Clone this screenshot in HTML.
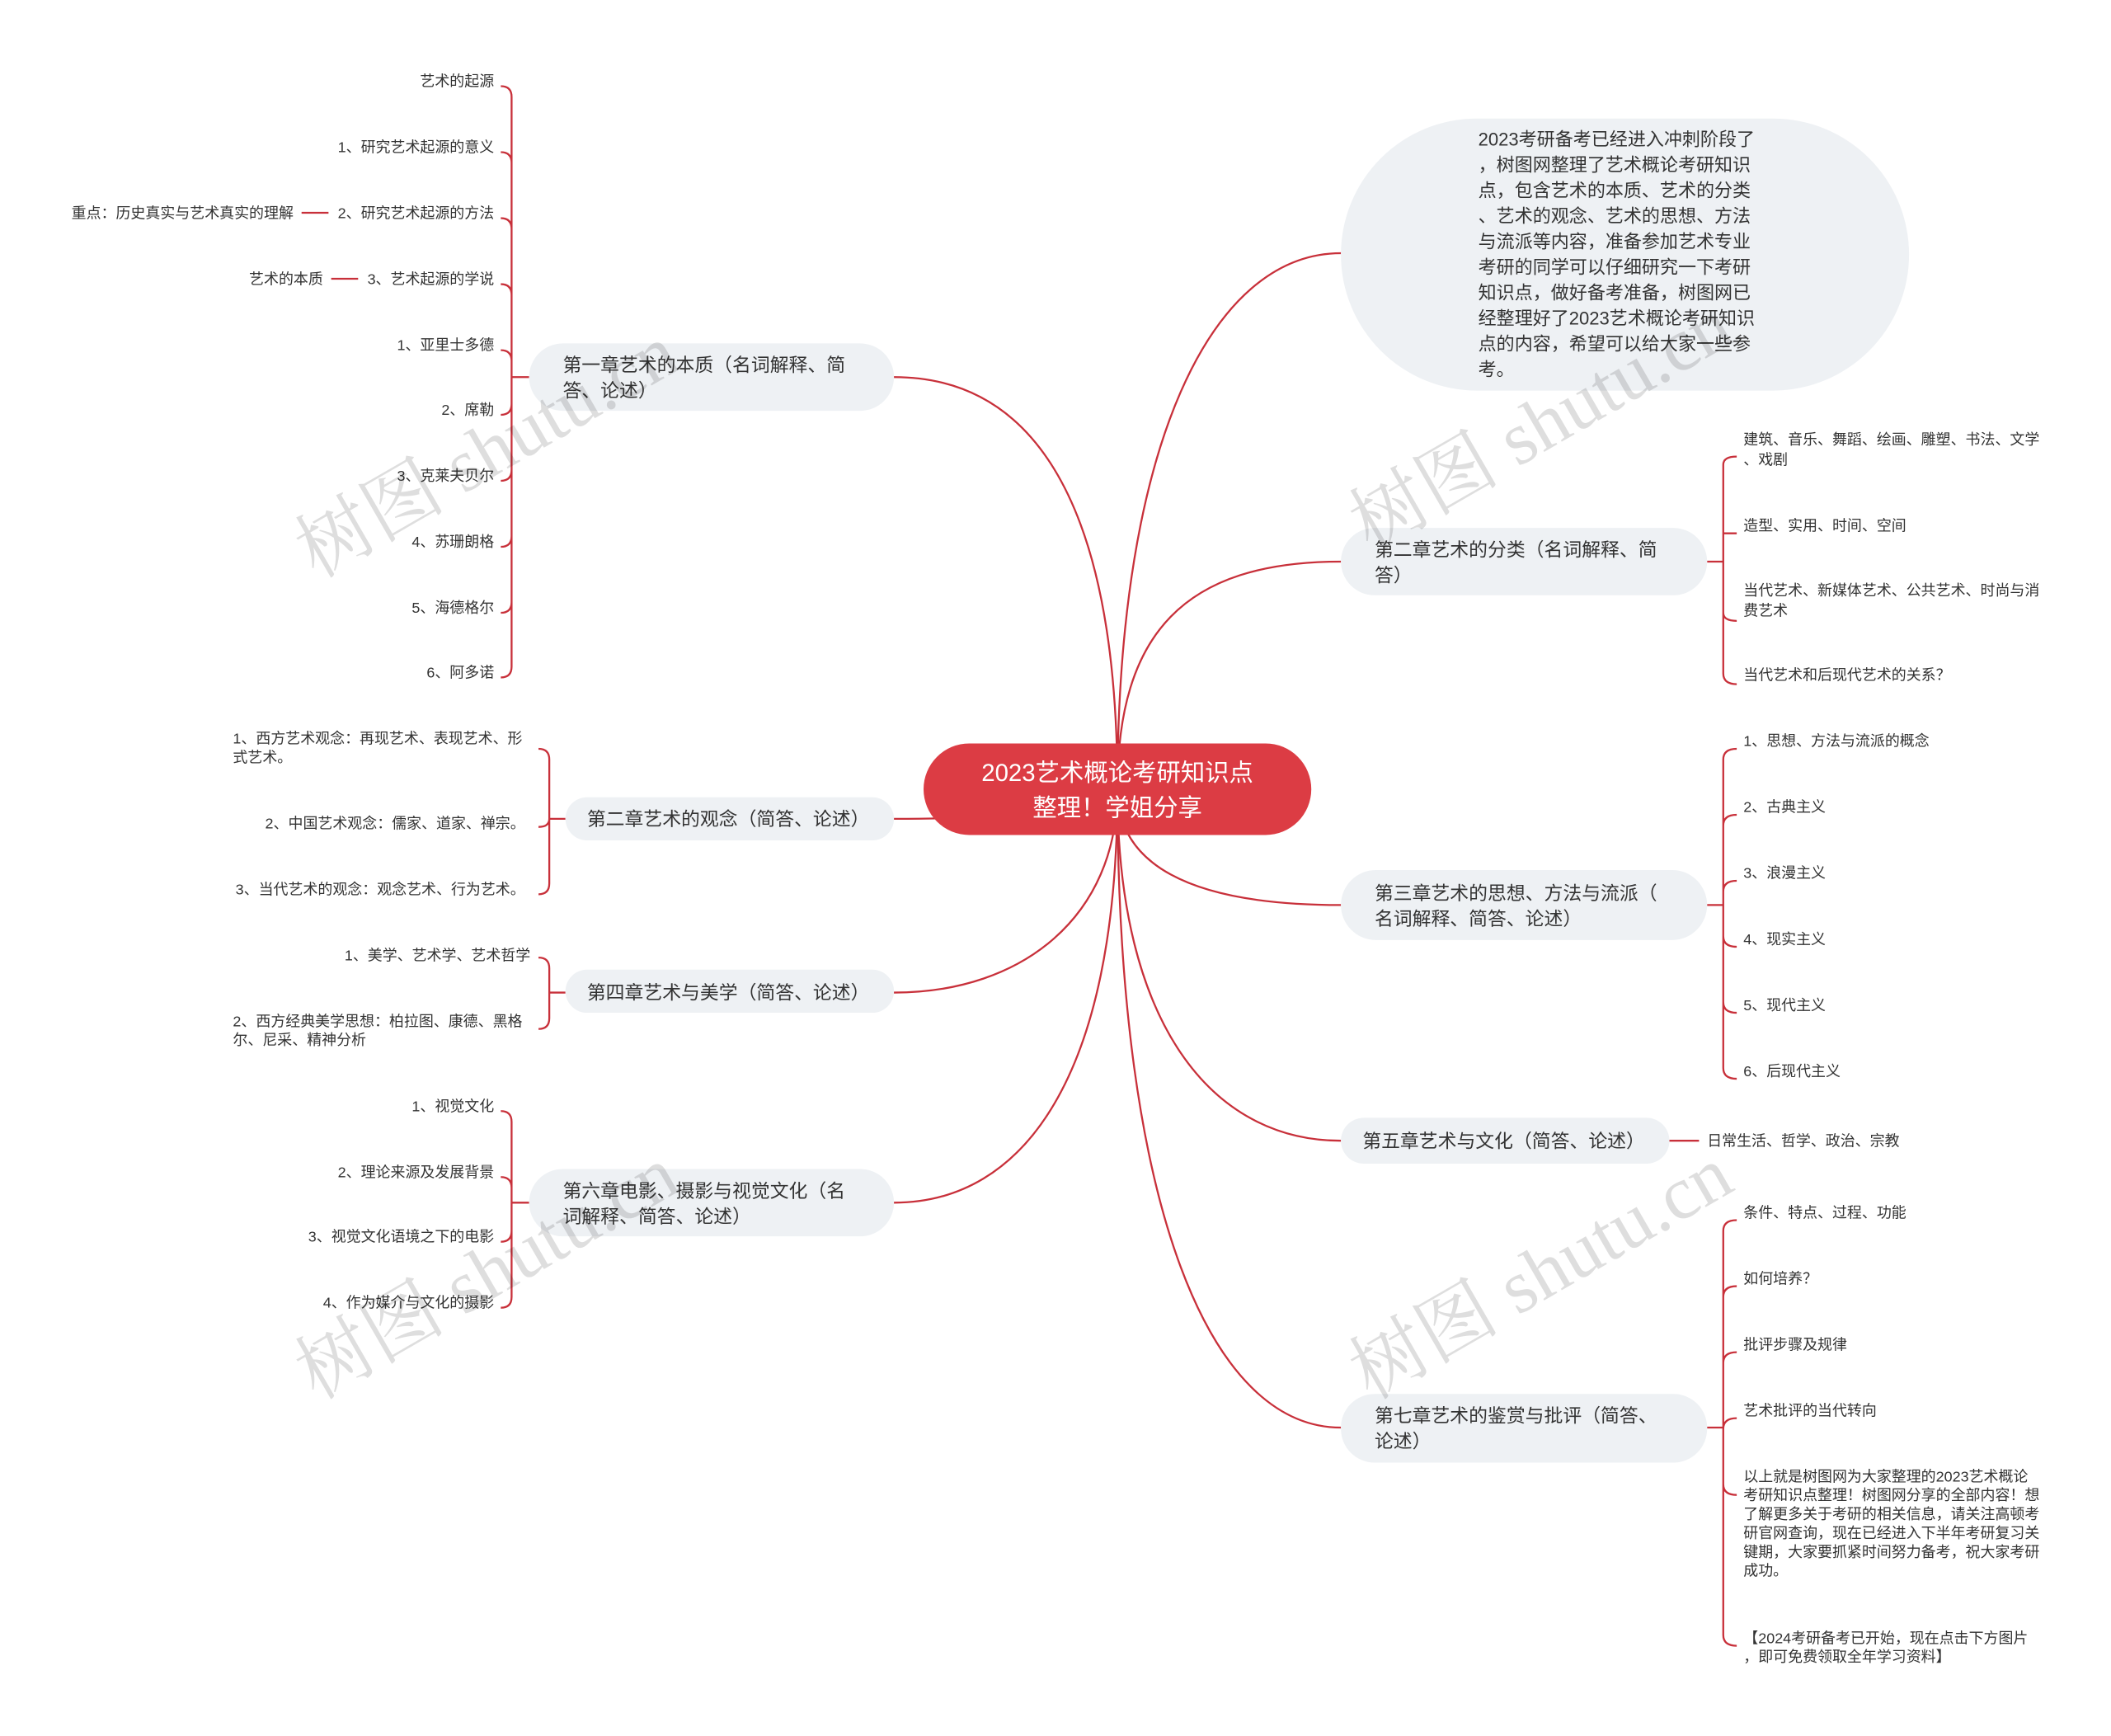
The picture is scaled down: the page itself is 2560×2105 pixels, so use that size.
<!DOCTYPE html>
<html><head><meta charset="utf-8"><style>
html,body{margin:0;padding:0;background:#fff;width:2560px;height:2105px;overflow:hidden}
svg{display:block}
text{font-family:"Liberation Sans","Noto Sans CJK SC",sans-serif;fill:#333}
.l{font-size:11px}
.b{font-size:14px}
.w{font-size:56px;fill:rgba(0,0,0,0.13);font-family:"Liberation Serif","Noto Serif CJK SC",serif}
path{fill:none;stroke:#c8303a;stroke-width:1.4}
</style></head><body>
<svg width="2560" height="2105" viewBox="0 0 1568 1289" preserveAspectRatio="none" xmlns="http://www.w3.org/2000/svg">
<path d="M830,586 C830,330 900,188 996,188"/>
<path d="M830,586 C830,470 880,417 996,417"/>
<path d="M830,586 C830,640 880,672 996,672"/>
<path d="M830,586 C830,760 900,847 996,847"/>
<path d="M830,586 C830,900 900,1060 996,1060"/>
<path d="M830,586 C830,360 760,280 664,280"/>
<path d="M830,586 C830,600 760,608 664,608"/>
<path d="M830,586 C830,680 760,737 664,737"/>
<path d="M830,586 C830,800 760,893 664,893"/>

<path d="M1268,417 H1280 M1280,417 V345 Q1280,339 1290,339 M1280,417 V396 Q1280,396 1290,396 M1280,417 V455 Q1280,461 1290,461 M1280,417 V500 Q1280,508 1290,508"/>
<path d="M1268,672 H1280 M1280,672 V564 Q1280,556 1290,556 M1280,672 V613 Q1280,605 1290,605 M1280,672 V662 Q1280,654 1290,654 M1280,672 V695 Q1280,703 1290,703 M1280,672 V744 Q1280,752 1290,752 M1280,672 V793 Q1280,801 1290,801"/>
<path d="M1240,847 H1262"/>
<path d="M1268,1060 H1280 M1280,1060 V914 Q1280,906 1290,906 M1280,1060 V963 Q1280,955 1290,955 M1280,1060 V1012 Q1280,1004 1290,1004 M1280,1060 V1061 Q1280,1053 1290,1053 M1280,1060 V1102 Q1280,1110 1290,1110 M1280,1060 V1214 Q1280,1222 1290,1222"/>

<path d="M393,280 H380 M380,280 V72 Q380,64 372,64 M380,280 V121 Q380,113 372,113 M380,280 V170 Q380,162 372,162 M380,280 V219 Q380,211 372,211 M380,280 V268 Q380,260 372,260 M380,280 V300 Q380,308 372,308 M380,280 V349 Q380,357 372,357 M380,280 V398 Q380,406 372,406 M380,280 V447 Q380,455 372,455 M380,280 V495 Q380,503 372,503"/>
<path d="M224,158 H244 M246,207 H266"/>
<path d="M420,608 H408 M408,608 V564 Q408,556 400,556 M408,608 Q408,614 400,614 M408,608 V656 Q408,664 400,664"/>
<path d="M420,737 H408 M408,737 V719 Q408,711 400,711 M408,737 V756 Q408,764 400,764"/>
<path d="M393,893 H380 M380,893 V833 Q380,825 372,825 M380,893 V882 Q380,874 372,874 M380,893 V914 Q380,922 372,922 M380,893 V963 Q380,971 372,971"/>

<rect x="686" y="552" width="288" height="68" rx="34" fill="#dc3c44"/>
<text x="830" y="580" text-anchor="middle" style="font-size:18px;fill:#fff">2023艺术概论考研知识点</text>
<text x="830" y="606" text-anchor="middle" style="font-size:18px;fill:#fff">整理！学姐分享</text>

<rect x="996" y="88" width="422" height="202" rx="101" fill="#eef1f4"/>
<g style="font-size:13.5px">
<text x="1098" y="108">2023考研备考已经进入冲刺阶段了</text>
<text x="1098" y="127">，树图网整理了艺术概论考研知识</text>
<text x="1098" y="146">点，包含艺术的本质、艺术的分类</text>
<text x="1098" y="165">、艺术的观念、艺术的思想、方法</text>
<text x="1098" y="184">与流派等内容，准备参加艺术专业</text>
<text x="1098" y="203">考研的同学可以仔细研究一下考研</text>
<text x="1098" y="222">知识点，做好备考准备，树图网已</text>
<text x="1098" y="241">经整理好了2023艺术概论考研知识</text>
<text x="1098" y="260">点的内容，希望可以给大家一些参</text>
<text x="1098" y="279">考。</text>
</g>

<rect x="996" y="392" width="272" height="50" rx="25" fill="#eef1f4"/>
<text class="b" x="1021" y="413">第二章艺术的分类（名词解释、简</text>
<text class="b" x="1021" y="432">答）</text>
<rect x="996" y="646" width="272" height="52" rx="26" fill="#eef1f4"/>
<text class="b" x="1021" y="668">第三章艺术的思想、方法与流派（</text>
<text class="b" x="1021" y="687">名词解释、简答、论述）</text>
<rect x="996" y="830" width="244" height="34" rx="17" fill="#eef1f4"/>
<text class="b" x="1012" y="852">第五章艺术与文化（简答、论述）</text>
<rect x="996" y="1035" width="272" height="51" rx="25" fill="#eef1f4"/>
<text class="b" x="1021" y="1056">第七章艺术的鉴赏与批评（简答、</text>
<text class="b" x="1021" y="1075">论述）</text>

<g class="l">
<text class="l" x="1295" y="330">建筑、音乐、舞蹈、绘画、雕塑、书法、文学</text>
<text class="l" x="1295" y="345">、戏剧</text>
<text class="l" x="1295" y="394">造型、实用、时间、空间</text>
<text class="l" x="1295" y="442">当代艺术、新媒体艺术、公共艺术、时尚与消</text>
<text class="l" x="1295" y="457">费艺术</text>
<text class="l" x="1295" y="505">当代艺术和后现代艺术的关系？</text>
<text class="l" x="1295" y="554">1、思想、方法与流派的概念</text>
<text class="l" x="1295" y="603">2、古典主义</text>
<text class="l" x="1295" y="652">3、浪漫主义</text>
<text class="l" x="1295" y="701">4、现实主义</text>
<text class="l" x="1295" y="750">5、现代主义</text>
<text class="l" x="1295" y="799">6、后现代主义</text>
<text class="l" x="1268" y="851">日常生活、哲学、政治、宗教</text>
<text class="l" x="1295" y="904">条件、特点、过程、功能</text>
<text class="l" x="1295" y="953">如何培养？</text>
<text class="l" x="1295" y="1002">批评步骤及规律</text>
<text class="l" x="1295" y="1051">艺术批评的当代转向</text>
<text class="l" x="1295" y="1100">以上就是树图网为大家整理的2023艺术概论</text>
<text class="l" x="1295" y="1114">考研知识点整理！树图网分享的全部内容！想</text>
<text class="l" x="1295" y="1128">了解更多关于考研的相关信息，请关注高顿考</text>
<text class="l" x="1295" y="1142">研官网查询，现在已经进入下半年考研复习关</text>
<text class="l" x="1295" y="1156">键期，大家要抓紧时间努力备考，祝大家考研</text>
<text class="l" x="1295" y="1170">成功。</text>
<text class="l" x="1295" y="1220">【2024考研备考已开始，现在点击下方图片</text>
<text class="l" x="1295" y="1234">，即可免费领取全年学习资料】</text>
</g>

<rect x="393" y="255" width="271" height="50" rx="25" fill="#eef1f4"/>
<text class="b" x="418" y="276">第一章艺术的本质（名词解释、简</text>
<text class="b" x="418" y="295">答、论述）</text>
<rect x="420" y="592" width="244" height="32" rx="16" fill="#eef1f4"/>
<text class="b" x="436" y="613">第二章艺术的观念（简答、论述）</text>
<rect x="420" y="720" width="244" height="32" rx="16" fill="#eef1f4"/>
<text class="b" x="436" y="742">第四章艺术与美学（简答、论述）</text>
<rect x="393" y="868" width="271" height="50" rx="25" fill="#eef1f4"/>
<text class="b" x="418" y="889">第六章电影、摄影与视觉文化（名</text>
<text class="b" x="418" y="908">词解释、简答、论述）</text>

<g text-anchor="end">
<text class="l" x="367" y="64">艺术的起源</text>
<text class="l" x="367" y="113">1、研究艺术起源的意义</text>
<text class="l" x="367" y="162">2、研究艺术起源的方法</text>
<text class="l" x="218" y="162">重点：历史真实与艺术真实的理解</text>
<text class="l" x="367" y="211">3、艺术起源的学说</text>
<text class="l" x="240" y="211">艺术的本质</text>
<text class="l" x="367" y="260">1、亚里士多德</text>
<text class="l" x="367" y="308">2、席勒</text>
<text class="l" x="367" y="357">3、克莱夫贝尔</text>
<text class="l" x="367" y="406">4、苏珊朗格</text>
<text class="l" x="367" y="455">5、海德格尔</text>
<text class="l" x="367" y="503">6、阿多诺</text>
<text class="l" x="390" y="615">2、中国艺术观念：儒家、道家、禅宗。</text>
<text class="l" x="390" y="664">3、当代艺术的观念：观念艺术、行为艺术。</text>
<text class="l" x="394" y="713">1、美学、艺术学、艺术哲学</text>
<text class="l" x="367" y="825">1、视觉文化</text>
<text class="l" x="367" y="874">2、理论来源及发展背景</text>
<text class="l" x="367" y="922">3、视觉文化语境之下的电影</text>
<text class="l" x="367" y="971">4、作为媒介与文化的摄影</text>
</g>
<text class="l" x="173" y="552">1、西方艺术观念：再现艺术、表现艺术、形</text>
<text class="l" x="173" y="566">式艺术。</text>
<text class="l" x="173" y="762">2、西方经典美学思想：柏拉图、康德、黑格</text>
<text class="l" x="173" y="776">尔、尼采、精神分析</text>

<text class="w" transform="translate(235,430) rotate(-30)">树图 shutu.cn</text>
<text class="w" transform="translate(235,1040) rotate(-30)">树图 shutu.cn</text>
<text class="w" transform="translate(1018,410) rotate(-30)">树图 shutu.cn</text>
<text class="w" transform="translate(1018,1040) rotate(-30)">树图 shutu.cn</text>
</svg>
</body></html>
